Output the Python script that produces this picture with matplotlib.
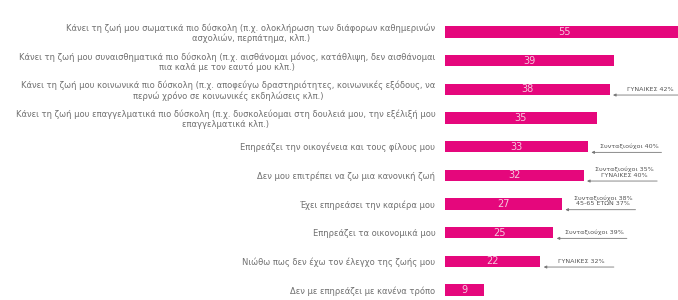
import matplotlib
matplotlib.use("Agg")
import matplotlib.pyplot as plt

categories = [
    "Κάνει τη ζωή μου σωματικά πιο δύσκολη (π.χ. ολοκλήρωση των διάφορων καθημερινών\nασχολιών, περπάτημα, κλπ.)",
    "Κάνει τη ζωή μου συναισθηματικά πιο δύσκολη (π.χ. αισθάνομαι μόνος, κατάθλιψη, δεν αισθάνομαι\nπια καλά με τον εαυτό μου κλπ.)",
    "Κάνει τη ζωή μου κοινωνικά πιο δύσκολη (π.χ. αποφεύγω δραστηριότητες, κοινωνικές εξόδους, να\nπερνώ χρόνο σε κοινωνικές εκδηλώσεις κλπ.)",
    "Κάνει τη ζωή μου επαγγελματικά πιο δύσκολη (π.χ. δυσκολεύομαι στη δουλειά μου, την εξέλιξή μου\nεπαγγελματικά κλπ.)",
    "Επηρεάζει την οικογένεια και τους φίλους μου",
    "Δεν μου επιτρέπει να ζω μια κανονική ζωή",
    "Έχει επηρεάσει την καριέρα μου",
    "Επηρεάζει τα οικονομικά μου",
    "Νιώθω πως δεν έχω τον έλεγχο της ζωής μου",
    "Δεν με επηρεάζει με κανένα τρόπο",
]
values = [55, 39, 38, 35, 33, 32, 27, 25, 22, 9]

# annotations: (row index, text)
note_rows = [2, 4, 5, 6, 7, 8]
note_texts = [
    "ΓΥΝΑΙΚΕΣ 42%",
    "Συνταξιούχοι 40%",
    "Συνταξιούχοι 35%\nΓΥΝΑΙΚΕΣ 40%",
    "Συνταξιούχοι 38%\n45-65 ΕΤΩΝ 37%",
    "Συνταξιούχοι 39%",
    "ΓΥΝΑΙΚΕΣ 32%",
]

W, H = 678, 300
fig = plt.figure(figsize=(W / 100, H / 100), dpi=100)
fig.patch.set_facecolor("white")
x0 = 445
ax = fig.add_axes([x0 / W, 0, (W - x0) / W, 1])
pxu = 4.33  # pixels per unit
ax.set_xlim(0, (W - x0) / pxu)
ax.set_ylim(9.35, -1.115)

color = "#E5077C"
ys = list(range(len(values)))
ax.barh(ys, values, height=0.40, color=color, zorder=2)
for y, v in zip(ys, values):
    ax.text(v / 2, y, str(v), ha="center", va="center", color="#F6C9DD",
            fontsize=7, zorder=3)

ax.set_yticks(ys)
ax.set_yticklabels(categories)
ax.tick_params(axis="y", length=0, pad=7, labelsize=6.0, labelcolor="#707070")
for t in ax.get_yticklabels():
    t.set_multialignment("center")
    t.set_linespacing(1.1)
ax.set_xticks([])
for s in ax.spines.values():
    s.set_visible(False)

for r, txt in zip(note_rows, note_texts):
    v = values[r]
    start = v + 17.0
    ax.annotate("", xy=(v + 0.8, r + 0.2), xytext=(start, r + 0.2),
                arrowprops=dict(arrowstyle="-|>", color="#777777", lw=0.6,
                                mutation_scale=4, shrinkA=0, shrinkB=0))
    ax.text(v + 9.5, r + 0.08, txt, ha="center", va="bottom", fontsize=4.6,
            color="#555555", linespacing=1.15)

fig.savefig("out.png", dpi=100, facecolor="white")
